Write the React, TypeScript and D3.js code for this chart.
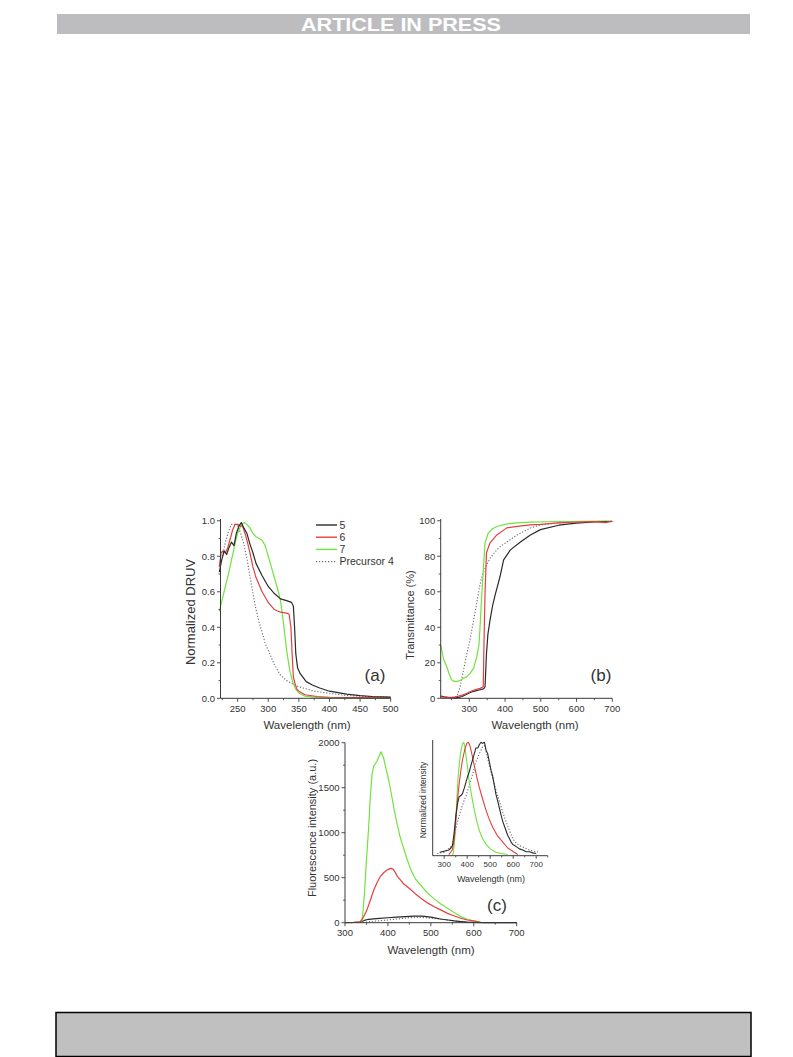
import React from "react";
import * as d3 from "d3";

// ---------- DATA ----------
// Panel (a): normalized DRUV
const aWl5 = [220,224,228,232,236,240,244,248,252,256,260,265,270,275,280,290,300,310,320,330,338,341,343,345,348,352,362,372,384,400,428,450,470,500];
const aV5 = [0.71,0.78,0.83,0.81,0.85,0.88,0.86,0.93,0.97,0.99,0.96,0.93,0.87,0.82,0.76,0.69,0.63,0.59,0.56,0.55,0.54,0.52,0.40,0.25,0.17,0.14,0.094,0.075,0.058,0.04,0.024,0.015,0.01,0.007];
const aWl6 = [220,223,226,230,234,238,242,246,250,254,258,262,266,270,275,280,290,300,310,320,330,334,337,339,341,344,347,352,360,380,400,450,500];
const aV6 = [0.74,0.82,0.83,0.82,0.85,0.90,0.95,0.98,0.98,0.97,0.97,0.93,0.88,0.82,0.74,0.68,0.60,0.54,0.50,0.485,0.48,0.475,0.40,0.25,0.12,0.08,0.05,0.035,0.02,0.01,0.006,0.004,0.003];
const aWl7 = [220,225,230,235,240,245,250,255,260,265,270,275,280,285,290,295,300,305,310,315,320,325,330,335,340,345,350,360,380,400,450,500];
const aV7 = [0.49,0.56,0.63,0.70,0.78,0.86,0.93,0.97,0.99,0.98,0.96,0.93,0.91,0.90,0.89,0.86,0.80,0.74,0.68,0.62,0.55,0.42,0.27,0.16,0.09,0.05,0.03,0.012,0.005,0.003,0.002,0.001];
const aWl4 = [225,230,235,240,245,250,255,260,265,270,275,280,285,290,295,300,310,320,330,340,350,375,400,430,460,500];
const aV4 = [0.80,0.88,0.94,0.98,0.98,0.97,0.93,0.87,0.79,0.69,0.59,0.50,0.43,0.37,0.31,0.27,0.19,0.13,0.10,0.08,0.065,0.04,0.028,0.015,0.01,0.006];

// Panel (b): transmittance
const bWl5 = [220,230,240,250,260,270,280,290,300,310,320,330,338,342,344,348,352,358,365,372,386,396,415,443,471,499,550,600,650,700];
const bV5 = [1.2,0.8,0.5,0.3,0.2,0.5,1.0,2.0,3.0,3.8,4.3,4.8,5.2,5.8,6.5,25,36,44,52,58,68.6,78,83.6,88,92,95,97.5,98.7,99.3,99.6];
const bWl6 = [220,230,240,250,260,270,280,290,302,315,330,339,341,344,348,358,377,405,440,471,499,550,600,650,680,690,700];
const bV6 = [0.8,0.6,0.5,0.6,0.8,1.2,1.8,2.6,3.7,4.8,5.6,6.5,30,59,82,87.6,92,96,97,97.7,98,98.8,99.3,99.5,99,99.4,99.6];
const bWl7 = [220,228,237,244,251,258,265,275,284,293,302,312,321,327,330,334,338,344,353,365,377,400,424,470,550,700];
const bV7 = [30,22,17.8,13.5,10.3,9.5,9.4,10.2,11.3,12.2,14,17,23.5,30,40,55,68.6,87.6,93,95.5,96.8,98,98.7,99.2,99.6,99.8];
const bWl4 = [255,265,275,284,293,302,312,321,328,335,348,360,377,390,405,433,471,499,550,600,650,700];
const bV4 = [0,0.5,7,16,25,33,44,53.7,62,68.6,75,79.5,83.6,86,88,92,95.9,97.7,98.8,99.3,99.6,99.8];

// Panel (c): fluorescence intensity
const cWl5 = [300,320,335,345,355,367,380,400,420,440,460,469,480,500,523,540,555,570,585,600,620,650,700];
const cV5 = [2,3,8,25,38,43,48,55,62,68,73,74,72,62,41,30,20,13,7,3,1,0,0];
const cWl6 = [300,320,335,343,351,359,367,375,382,390,398,406,412,417,422,430,437,445,455,465,476,492,508,524,539,555,570,585,602,616];
const cV6 = [0,2,10,60,140,250,363,450,511,555,585,604,595,560,515,470,430,400,360,315,275,220,178,140,104,75,49,30,17,5];
const cWl7 = [300,320,330,337,340,345,350,355,359,363,367,375,384,390,396,402,408,414,420,428,437,445,455,465,476,492,508,524,539,555,570,585,602,615];
const cV7 = [0,2,5,15,30,300,700,1050,1400,1650,1740,1800,1900,1830,1700,1580,1430,1270,1130,960,820,700,570,480,420,330,265,205,160,110,67,38,18,6];
const cWl4 = [300,340,355,370,390,410,430,450,470,490,510,530,550,570,590,610,650,700];
const cV4 = [0,3,10,18,25,35,45,55,60,55,45,35,22,12,5,2,0,0];

// Inset: normalized intensity
const iWl5 = [280,300,320,330,336,343,351,358,365,373,380,388,395,402,409,417,424,431,438,446,453,460,467,475,482,489,496,504,511,518,525,533,540,547,555,562,569,576,584,591,598,606,613,627,642,656,671,685,700];
const iV5 = [0.03,0.04,0.05,0.07,0.09,0.2,0.36,0.46,0.52,0.53,0.55,0.6,0.65,0.7,0.74,0.8,0.85,0.9,0.95,0.95,0.98,1.0,0.99,1.0,0.93,0.9,0.83,0.75,0.7,0.62,0.54,0.48,0.42,0.36,0.3,0.26,0.22,0.18,0.15,0.12,0.1,0.09,0.08,0.06,0.05,0.035,0.035,0.025,0.02];
const iWl6 = [320,335,344,351,358,366,373,380,390,398,405,412,420,430,442,453,467,482,496,511,530,555,575,598,620];
const iV6 = [0.01,0.05,0.15,0.32,0.5,0.65,0.76,0.85,0.94,0.99,1.0,0.97,0.9,0.8,0.69,0.6,0.5,0.4,0.32,0.25,0.18,0.12,0.07,0.04,0.01];
const iWl7 = [335,340,345,350,355,360,365,372,380,385,390,395,402,409,420,431,442,453,467,482,500,525,550,576];
const iV7 = [0.0,0.03,0.12,0.3,0.5,0.68,0.8,0.92,0.99,1.0,0.96,0.88,0.77,0.65,0.52,0.4,0.3,0.22,0.15,0.1,0.06,0.03,0.02,0.01];
const iWl4 = [270,300,336,347,358,369,380,395,409,424,438,453,467,475,482,496,511,525,540,555,569,584,598,613,627,649,671,690,707];
const iV4 = [0.02,0.03,0.09,0.2,0.3,0.38,0.45,0.53,0.62,0.72,0.83,0.9,0.96,0.97,0.92,0.8,0.68,0.58,0.48,0.38,0.3,0.22,0.15,0.11,0.09,0.07,0.05,0.04,0.035];

// Ticks and labels
const aXTicks = [250, 300, 350, 400, 450, 500];
const aYTicks = [0, 0.2, 0.4, 0.6, 0.8, 1.0];
const bXTicks = [300, 400, 500, 600, 700];
const bYTicks = [0, 20, 40, 60, 80, 100];
const cXTicks = [300, 400, 500, 600, 700];
const cYTicks = [0, 500, 1000, 1500, 2000];
const iXTicks = [300, 400, 500, 600, 700];
const legendLabels = ["5", "6", "7", "Precursor 4"];

const COL5 = "#2a2a2a";
const COL6 = "#e2403f";
const COL7 = "#72e23e";
const COL4 = "#6a6a6a";
const FONT = "'Liberation Sans', Arial, Helvetica, sans-serif";
const AX = "#3a3a3a";
const TXT = "#333";

type Series = { wl: number[]; v: number[]; color: string; dotted?: boolean };

function Curves({ series, x, y, width }: { series: Series[]; x: any; y: any; width?: number }) {
  const line = d3.line<[number, number]>().x((d) => x(d[0])).y((d) => y(d[1])).curve(d3.curveLinear);
  return (
    <g>
      {series.map((s, i) => (
        <path
          key={i}
          d={line(s.wl.map((w, k) => [w, s.v[k]] as [number, number])) || ""}
          fill="none"
          stroke={s.color}
          strokeWidth={s.dotted ? 1.1 : width ?? 1.2}
          strokeDasharray={s.dotted ? "1.2,1.8" : undefined}
          strokeLinejoin="round"
        />
      ))}
    </g>
  );
}

function Axes({
  x, y, xTicks, yTicks, xMinor, yMinor, fmtY, fs, majLen = 3.5, minLen = 2, showYLabels = true, yTickShow = true,
}: any) {
  const [x0, x1] = x.range();
  const [y0, y1] = y.range();
  return (
    <g fontFamily={FONT} fill={TXT}>
      <line x1={x0} x2={x1} y1={y0} y2={y0} stroke={AX} strokeWidth={1} />
      <line x1={x0} x2={x0} y1={y0} y2={y1} stroke={AX} strokeWidth={1} />
      {xTicks.map((t: number) => (
        <g key={"x" + t}>
          <line x1={x(t)} x2={x(t)} y1={y0} y2={y0 + majLen} stroke={AX} strokeWidth={0.9} />
          <text x={x(t)} y={y0 + majLen + fs + 0.5} fontSize={fs} textAnchor="middle">{t}</text>
        </g>
      ))}
      {xMinor.map((t: number) => (
        <line key={"xm" + t} x1={x(t)} x2={x(t)} y1={y0} y2={y0 + minLen} stroke={AX} strokeWidth={0.8} />
      ))}
      {yTickShow && yTicks.map((t: number) => (
        <g key={"y" + t}>
          <line x1={x0} x2={x0 - majLen} y1={y(t)} y2={y(t)} stroke={AX} strokeWidth={0.9} />
          {showYLabels && (
            <text x={x0 - majLen - 2} y={y(t) + fs * 0.35} fontSize={fs} textAnchor="end">{fmtY(t)}</text>
          )}
        </g>
      ))}
      {yTickShow && yMinor.map((t: number) => (
        <line key={"ym" + t} x1={x0} x2={x0 - minLen} y1={y(t)} y2={y(t)} stroke={AX} strokeWidth={0.8} />
      ))}
    </g>
  );
}

const mids = (ticks: number[], step: number) => {
  const out: number[] = [];
  for (let i = 0; i < ticks.length; i++) out.push(ticks[i] - step / 2);
  out.push(ticks[ticks.length - 1] + step / 2);
  return out;
};

export default function App() {
  // Panel (a)
  const ax = d3.scaleLinear().domain([222, 500]).range([220.5, 390.7]);
  const ay = d3.scaleLinear().domain([0, 1.01]).range([698.3, 519]);
  // Panel (b)
  const bx = d3.scaleLinear().domain([220, 700]).range([440.7, 612.3]);
  const by = d3.scaleLinear().domain([0, 101]).range([698.3, 519]);
  // Panel (c)
  const cx = d3.scaleLinear().domain([300, 700]).range([345, 516.7]);
  const cy = d3.scaleLinear().domain([0, 2000]).range([922.7, 742.7]);
  // Inset
  const ix = d3.scaleLinear().domain([250, 750]).range([432.7, 547.7]);
  const iy = d3.scaleLinear().domain([0, 1.02]).range([855.7, 740]);

  const aMinX = mids(aXTicks, 50).filter((t) => t > 222 && t <= 500);
  const aMinY = mids(aYTicks, 0.2).filter((t) => t > 0 && t < 1.01);
  const bMinX = mids(bXTicks, 100).filter((t) => t > 220 && t <= 700);
  const bMinY = mids(bYTicks, 20).filter((t) => t > 0 && t < 101);
  const cMinX = mids(cXTicks, 100).filter((t) => t > 300 && t <= 700);
  const cMinY = mids(cYTicks, 500).filter((t) => t > 0 && t <= 2000);
  const iMinX = mids(iXTicks, 100).filter((t) => t > 250 && t <= 750);

  const aSeries: Series[] = [
    { wl: aWl4, v: aV4, color: COL4, dotted: true },
    { wl: aWl7, v: aV7, color: COL7 },
    { wl: aWl6, v: aV6, color: COL6 },
    { wl: aWl5, v: aV5, color: COL5 },
  ];
  const bSeries: Series[] = [
    { wl: bWl4, v: bV4, color: COL4, dotted: true },
    { wl: bWl7, v: bV7, color: COL7 },
    { wl: bWl5, v: bV5, color: COL5 },
    { wl: bWl6, v: bV6, color: COL6 },
  ];
  const cSeries: Series[] = [
    { wl: cWl4, v: cV4, color: COL4, dotted: true },
    { wl: cWl5, v: cV5, color: COL5 },
    { wl: cWl7, v: cV7, color: COL7 },
    { wl: cWl6, v: cV6, color: COL6 },
  ];
  const iSeries: Series[] = [
    { wl: iWl4, v: iV4, color: COL4, dotted: true },
    { wl: iWl7, v: iV7, color: COL7 },
    { wl: iWl6, v: iV6, color: COL6 },
    { wl: iWl5, v: iV5, color: COL5 },
  ];
  const legendColors = [COL5, COL6, COL7, COL4];

  return (
    <svg
      width={793}
      height={1057}
      style={{ position: "absolute", left: 0, top: 0, background: "#fff" }}
      fontFamily={FONT}
    >
      {/* header */}
      <rect x={57} y={14} width={693} height={20} fill="#bdbdc0" />
      <text x={401} y={30.5} fontSize={18} fontWeight="bold" fill="#fff" textAnchor="middle"
        textLength={200} lengthAdjust="spacingAndGlyphs">ARTICLE IN PRESS</text>

      {/* Panel (a) */}
      <Curves series={aSeries} x={ax} y={ay} />
      <Axes x={ax} y={ay} xTicks={aXTicks} yTicks={aYTicks} xMinor={aMinX} yMinor={aMinY}
        fmtY={(t: number) => t.toFixed(1)} fs={9.5} />
      <text x={307} y={729} fontSize={11.5} textAnchor="middle" fill={TXT}>Wavelength (nm)</text>
      <text transform="translate(194.5,612) rotate(-90)" fontSize={13} textAnchor="middle" fill={TXT}>Normalized DRUV</text>
      <text x={375} y={681} fontSize={17} textAnchor="middle" fill={TXT}>(a)</text>
      {legendLabels.map((l, i) => (
        <g key={l}>
          <line x1={316} x2={337} y1={525 + i * 12.2} y2={525 + i * 12.2} stroke={legendColors[i]}
            strokeWidth={i === 3 ? 1.1 : 1.4} strokeDasharray={i === 3 ? "1.2,1.8" : undefined} />
          <text x={339.5} y={525 + i * 12.2 + 3.7} fontSize={10.5} fill={TXT}>{l}</text>
        </g>
      ))}

      {/* Panel (b) */}
      <Curves series={bSeries} x={bx} y={by} />
      <Axes x={bx} y={by} xTicks={bXTicks} yTicks={bYTicks} xMinor={bMinX} yMinor={bMinY}
        fmtY={(t: number) => String(t)} fs={9.5} />
      <text x={535} y={729} fontSize={11.5} textAnchor="middle" fill={TXT}>Wavelength (nm)</text>
      <text transform="translate(414,615) rotate(-90)" fontSize={11} textAnchor="middle" fill={TXT}>Transmittance (%)</text>
      <text x={601} y={681} fontSize={17} textAnchor="middle" fill={TXT}>(b)</text>

      {/* Panel (c) */}
      <Curves series={cSeries} x={cx} y={cy} />
      <Axes x={cx} y={cy} xTicks={cXTicks} yTicks={cYTicks} xMinor={cMinX} yMinor={cMinY}
        fmtY={(t: number) => String(t)} fs={9.5} />
      <text x={431} y={954} fontSize={11.5} textAnchor="middle" fill={TXT}>Wavelength (nm)</text>
      <text transform="translate(316,828) rotate(-90)" fontSize={11} textAnchor="middle" fill={TXT}>Fluorescence intensity (a.u.)</text>
      <text x={497} y={911} fontSize={17} textAnchor="middle" fill={TXT}>(c)</text>

      {/* Inset */}
      <Curves series={iSeries} x={ix} y={iy} width={1.1} />
      <Axes x={ix} y={iy} xTicks={iXTicks} yTicks={[]} xMinor={iMinX} yMinor={[]}
        fmtY={(t: number) => String(t)} fs={8} majLen={3} minLen={1.8} yTickShow={false} />
      <text x={491} y={882} fontSize={9} textAnchor="middle" fill={TXT}>Wavelength (nm)</text>
      <text transform="translate(426,800) rotate(-90)" fontSize={8.5} textAnchor="middle" fill={TXT}>Normalized intensity</text>

      {/* footer */}
      <rect x={56} y={1012.5} width={695} height={44} fill="#c0c0c0" stroke="#000" strokeWidth={1.5} />
    </svg>
  );
}
